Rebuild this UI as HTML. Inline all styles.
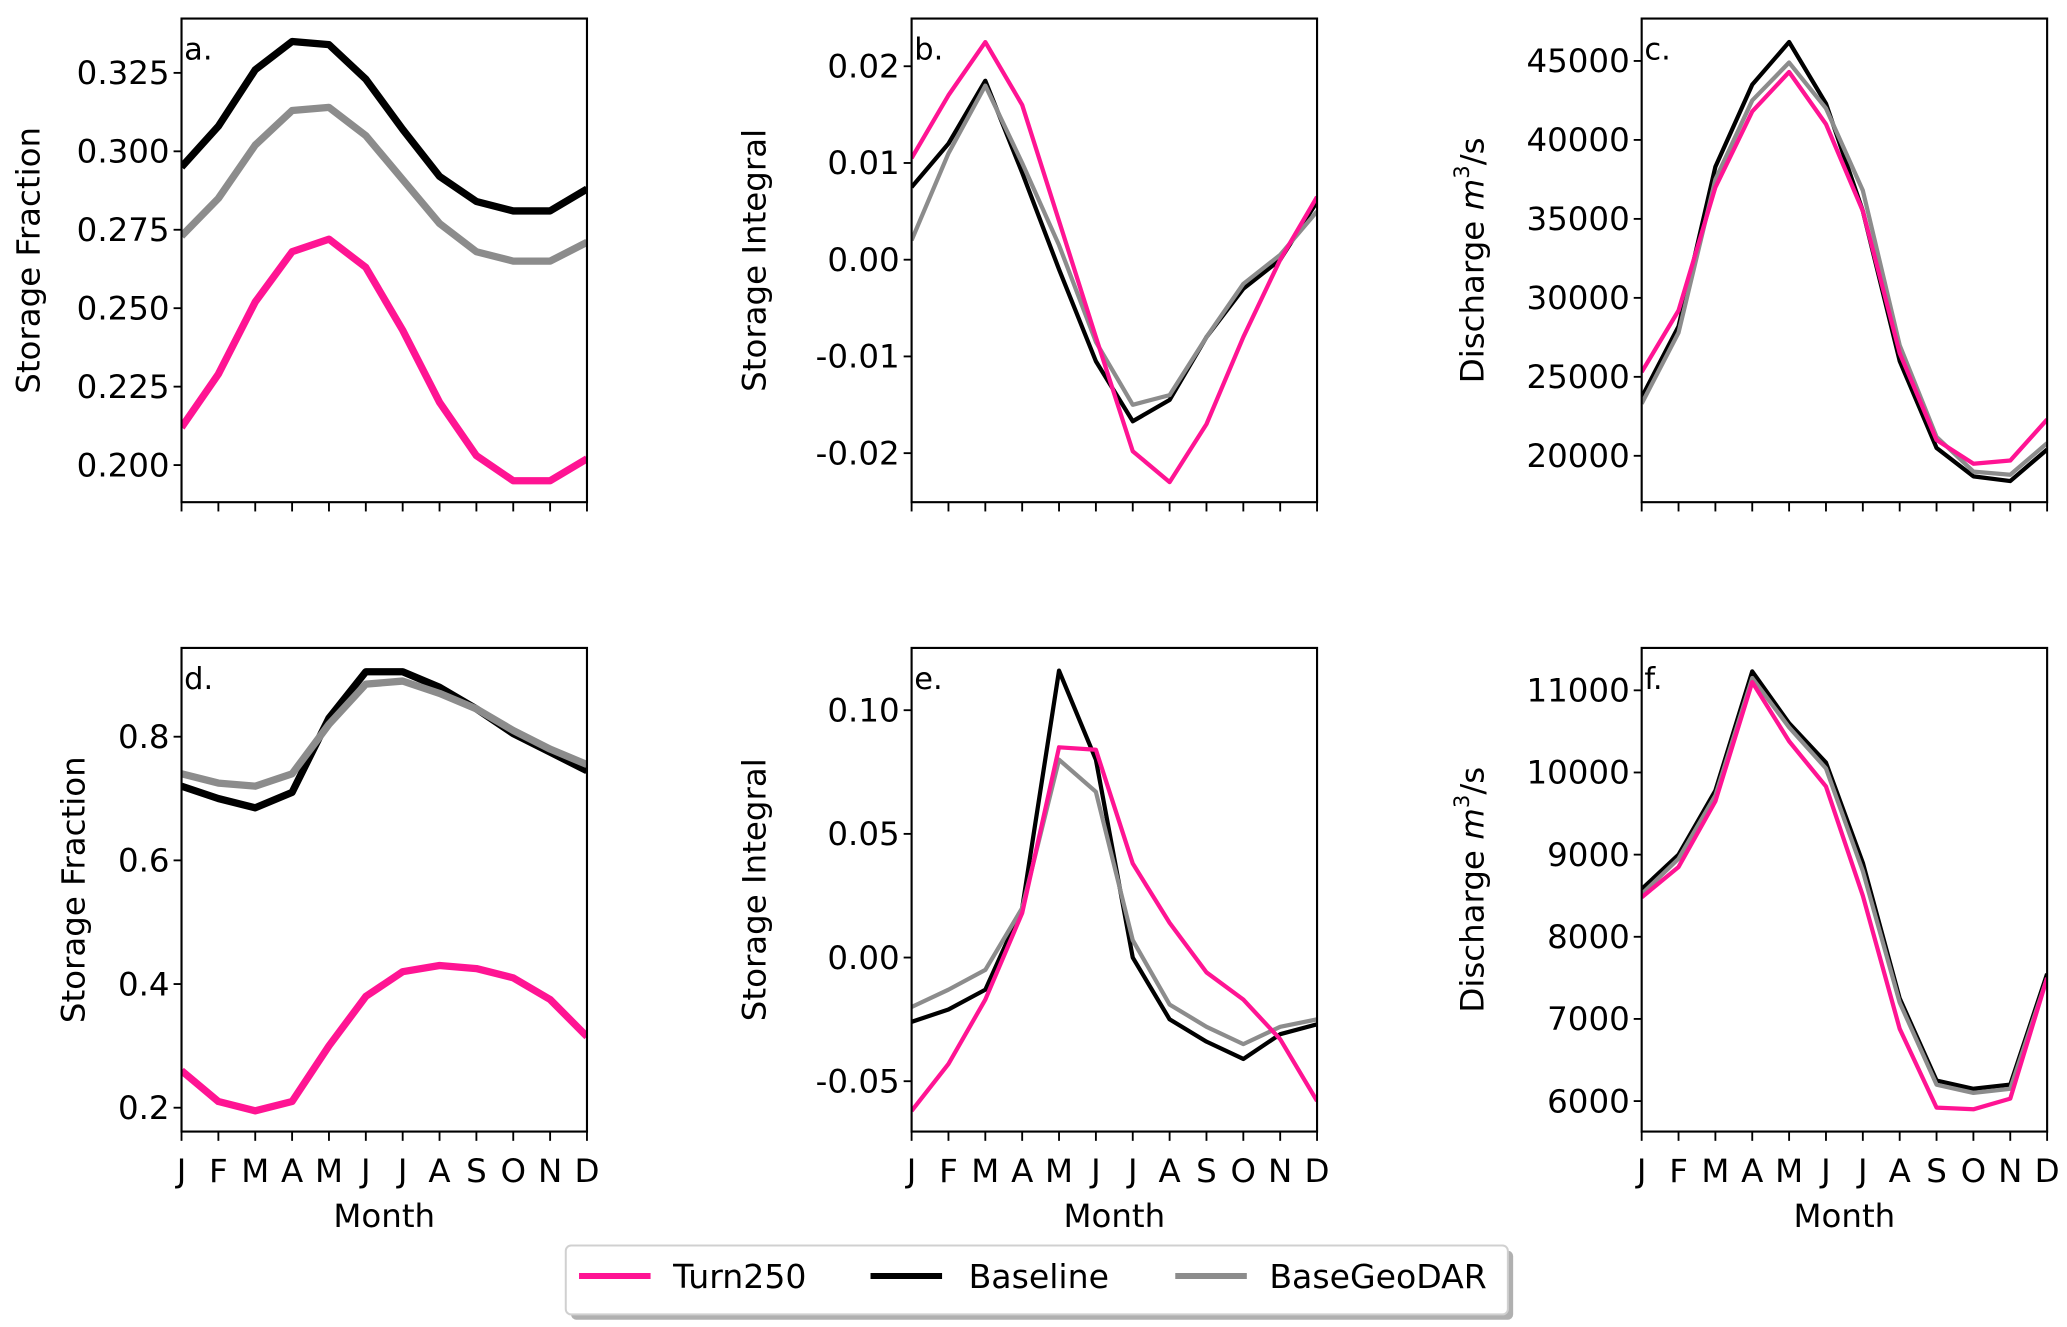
<!DOCTYPE html>
<html><head><meta charset="utf-8"><style>
html,body{margin:0;padding:0;background:#fff;width:2067px;height:1327px;overflow:hidden}
svg{display:block}
text{font-family:"DejaVu Sans","Liberation Sans",sans-serif;fill:#000}
</style></head><body>
<svg id="fig" width="2067" height="1327" viewBox="0 0 1560 1001.5" preserveAspectRatio="none" xmlns="http://www.w3.org/2000/svg">
<g id="root"></g>
</svg>
<script>
const months = ["J","F","M","A","M","J","J","A","S","O","N","D"];
const seriesNames = ["Turn250","Baseline","BaseGeoDAR"];
const aPink = [0.212,0.229,0.252,0.268,0.272,0.263,0.243,0.220,0.203,0.195,0.195,0.202];
const aBlack = [0.295,0.308,0.326,0.335,0.334,0.323,0.307,0.292,0.284,0.281,0.281,0.288];
const aGray = [0.273,0.285,0.302,0.313,0.314,0.305,0.291,0.277,0.268,0.265,0.265,0.271];
const bPink = [0.0105,0.017,0.0225,0.016,0.004,-0.008,-0.0198,-0.023,-0.017,-0.008,0.0,0.0065];
const bBlack = [0.0075,0.012,0.0185,0.009,-0.001,-0.0105,-0.0167,-0.0145,-0.008,-0.003,0.0,0.006];
const bGray = [0.002,0.011,0.018,0.01,0.0015,-0.0085,-0.015,-0.014,-0.008,-0.0025,0.0005,0.005];
const cPink = [25300,29200,37000,41800,44300,41000,35500,26500,21000,19500,19700,22300];
const cBlack = [23700,28200,38300,43500,46200,42300,35500,26000,20500,18700,18400,20400];
const cGray = [23300,27800,37500,42500,44900,42000,36800,27000,21200,19000,18800,20800];
const dPink = [0.26,0.21,0.195,0.21,0.30,0.38,0.42,0.43,0.425,0.41,0.375,0.315];
const dBlack = [0.72,0.70,0.685,0.71,0.83,0.905,0.905,0.88,0.845,0.805,0.775,0.745];
const dGray = [0.74,0.725,0.72,0.74,0.82,0.885,0.89,0.87,0.845,0.81,0.78,0.755];
const ePink = [-0.062,-0.043,-0.017,0.018,0.085,0.084,0.038,0.014,-0.006,-0.017,-0.033,-0.058];
const eBlack = [-0.026,-0.021,-0.013,0.02,0.116,0.08,0.0,-0.025,-0.034,-0.041,-0.031,-0.027];
const eGray = [-0.02,-0.013,-0.005,0.02,0.08,0.067,0.007,-0.019,-0.028,-0.035,-0.028,-0.025];
const fPink = [8480,8850,9650,11100,10380,9830,8500,6880,5920,5900,6030,7500];
const fBlack = [8580,9000,9780,11230,10600,10120,8900,7250,6250,6150,6200,7550];
const fGray = [8520,8950,9720,11150,10550,10050,8800,7200,6200,6100,6150,7500];
const aTicks = [0.200,0.225,0.250,0.275,0.300,0.325];
const bTicks = [-0.02,-0.01,0.00,0.01,0.02];
const cTicks = [20000,25000,30000,35000,40000,45000];
const dTicks = [0.2,0.4,0.6,0.8];
const eTicks = [-0.05,0.00,0.05,0.10];
const fTicks = [6000,7000,8000,9000,10000,11000];

const NS="http://www.w3.org/2000/svg";
const root=document.getElementById('root');
function mk(tag,attrs,parent){const e=document.createElementNS(NS,tag);for(const k in attrs)e.setAttribute(k,attrs[k]);(parent||root).appendChild(e);return e;}

const panels=[
 {id:'a',x0:137,x1:443,y0:14,y1:379,v1:0.325,p1:55,v2:0.200,p2:351,ticks:aTicks,dec:3,data:[aBlack,aGray,aPink],lw:5.5,ylab:'Storage Fraction',ylx:23,labels:false},
 {id:'b',x0:688,x1:994,y0:14,y1:379,v1:0.02,p1:50,v2:-0.02,p2:342,ticks:bTicks,dec:2,data:[bBlack,bGray,bPink],lw:3.2,ylab:'Storage Integral',ylx:571,labels:false},
 {id:'c',x0:1239,x1:1545,y0:14,y1:379,v1:45000,p1:46,v2:20000,p2:344,ticks:cTicks,dec:0,data:[cBlack,cGray,cPink],lw:3.2,ylab:'Discharge',ylx:1113,labels:false},
 {id:'d',x0:137,x1:443,y0:489,y1:854,v1:0.8,p1:556,v2:0.2,p2:836,ticks:dTicks,dec:1,data:[dBlack,dGray,dPink],lw:5.5,ylab:'Storage Fraction',ylx:57,labels:true},
 {id:'e',x0:688,x1:994,y0:489,y1:854,v1:0.10,p1:536,v2:-0.05,p2:816,ticks:eTicks,dec:2,data:[eBlack,eGray,ePink],lw:3.2,ylab:'Storage Integral',ylx:571,labels:true},
 {id:'f',x0:1239,x1:1545,y0:489,y1:854,v1:11000,p1:521,v2:6000,p2:831,ticks:fTicks,dec:0,data:[fBlack,fGray,fPink],lw:3.2,ylab:'Discharge',ylx:1113,labels:true}
];
const colors=['#000000','#8c8c8c','#ff1493'];
const snames=['baseline','basegeodar','turn250'];

panels.forEach(p=>{
 const g=mk('g',{});
 
 
 const xs=i=>p.x0+(p.x1-p.x0)*i/11;
 const ys=v=>p.p1+(v-p.v1)*(p.p2-p.p1)/(p.v2-p.v1);
 const cp=mk('clipPath',{id:'clip'+p.id},g);
 mk('rect',{x:p.x0,y:p.y0,width:p.x1-p.x0,height:p.y1-p.y0},cp);
 p.data.forEach((arr,si)=>{
  const pts=arr.map((v,i)=>xs(i).toFixed(2)+','+ys(v).toFixed(2)).join(' ');
  const pl=mk('polyline',{points:pts,fill:'none',stroke:colors[si],'stroke-width':p.lw,'stroke-linejoin':'round','clip-path':'url(#clip'+p.id+')'},g);
  
  
 });
 const fr=mk('rect',{x:p.x0,y:p.y0,width:p.x1-p.x0,height:p.y1-p.y0,fill:'none',stroke:'#000','stroke-width':1.6},g);
 
 
 p.ticks.forEach(t=>{
  const y=ys(t);
  mk('line',{x1:p.x0-6,x2:p.x0,y1:y,y2:y,stroke:'#000','stroke-width':1.4},g);
  const tx=mk('text',{x:p.x0-9,y:y+8.5,'text-anchor':'end','font-size':24.5},g);
  tx.textContent=t.toFixed(p.dec);
  
  
 });
 months.forEach((m,i)=>{
  const x=xs(i);
  mk('line',{x1:x,x2:x,y1:p.y1,y2:p.y1+7,stroke:'#000','stroke-width':1.4},g);
  if(p.labels){
   const tx=mk('text',{x:x,y:p.y1+38,'text-anchor':'middle','font-size':24.5},g);
   tx.textContent=m;
   
   
  }
 });
 if(p.labels){
  const xl=mk('text',{x:(p.x0+p.x1)/2,y:p.y1+72,'text-anchor':'middle','font-size':24.5},g);
  xl.textContent='Month';
  
  
 }
 const cy=(p.y0+p.y1)/2;
 const yl=mk('text',{x:p.ylx,y:cy,'text-anchor':'middle','font-size':24.5,transform:'rotate(-90 '+p.ylx+' '+cy+')','dominant-baseline':'middle'},g);
 if(p.ylab==='Discharge'){
  yl.textContent='Discharge ';
  const t1=mk('tspan',{'font-style':'italic'},yl);t1.textContent='m';
  const t2=mk('tspan',{'font-size':16,dy:-9},yl);t2.textContent='3';
  const t3=mk('tspan',{dy:9},yl);t3.textContent='/s';
 } else yl.textContent=p.ylab;
 
 
 const pl=mk('text',{x:p.x0+2,y:p.y0+31,'font-size':23},g);
 pl.textContent=p.id+'.';
 
 
});

const lg=mk('g',{});


mk('rect',{x:431,y:944,width:711,height:52,rx:4,fill:'#b0b0b0'},lg);
mk('rect',{x:427,y:940,width:711,height:52,rx:4,fill:'#fff',stroke:'#d0d0d0','stroke-width':1.5},lg);
const legItems=[[437,'#ff1493','Turn250',508],[657,'#000000','Baseline',731],[887,'#8c8c8c','BaseGeoDAR',958]];
legItems.forEach(it=>{
 const e=mk('g',{},lg);
 
 
 mk('line',{x1:it[0],x2:it[0]+54,y1:963,y2:963,stroke:it[1],'stroke-width':4.5},e);
 const t=mk('text',{x:it[3],y:972,'font-size':25},e);
 t.textContent=it[2];
});
</script>
</body></html>
